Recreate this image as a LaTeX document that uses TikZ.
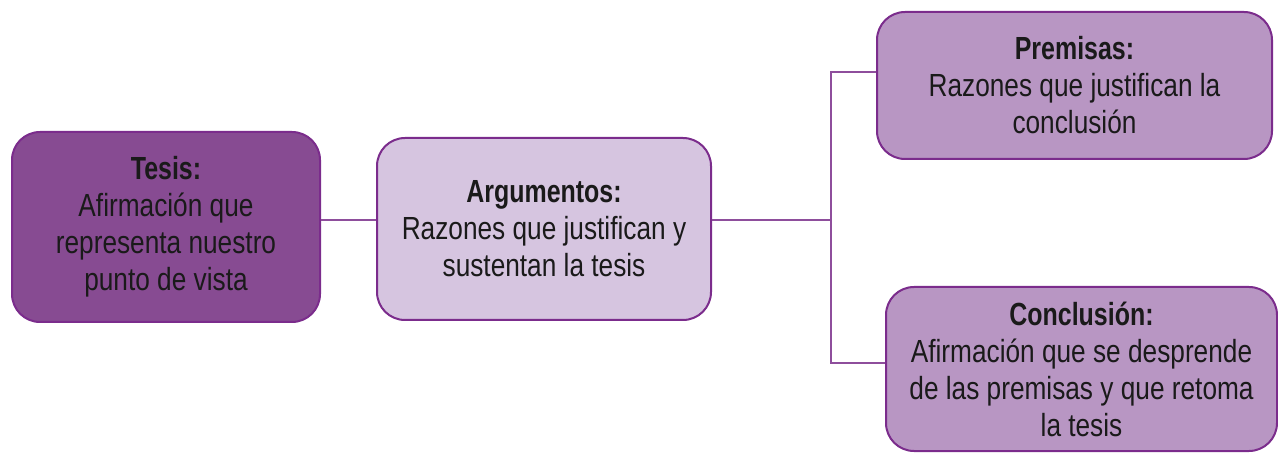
\documentclass[tikz,border=0pt]{standalone}
\usepackage{fontspec}
\setmainfont{Liberation Sans}[FakeStretch=0.82,BoldFeatures={FakeStretch=0.78}]
\definecolor{borde}{HTML}{7B2C8C}
\definecolor{enlace}{HTML}{8E4E9C}
\definecolor{oscuro}{HTML}{874B92}
\definecolor{claro}{HTML}{D6C5E0}
\definecolor{medio}{HTML}{B896C3}
\definecolor{texto}{HTML}{1A1A1A}
\begin{document}
\begin{tikzpicture}[x=1pt,y=1pt,
  box/.style={draw=borde,line width=2pt,rounded corners=28pt,align=center,
    inner sep=0pt,text=texto,font=\fontsize{32}{37}\selectfont},
  link/.style={draw=enlace,line width=2pt}]
  \useasboundingbox (0,0) rectangle (1278,453);
  % Boxes
  \node[box,fill=oscuro,minimum width=308pt,minimum height=190pt] (tesis) at (166,226)
    {\textbf{Tesis:}\\Afirmación que\\representa nuestro\\punto de vista};
  \node[box,fill=claro,minimum width=334pt,minimum height=182pt] (argumentos) at (544,224)
    {\textbf{Argumentos:}\\Razones que justifican y\\sustentan la tesis};
  \node[box,fill=medio,minimum width=395pt,minimum height=147pt] (premisas) at (1074.5,367.5)
    {\textbf{Premisas:}\\Razones que justifican la\\conclusión};
  \node[box,fill=medio,minimum width=391pt,minimum height=164pt] (conclusion) at (1081.5,84)
    {\textbf{Conclusión:}\\Afirmación que se desprende\\de las premisas y que retoma\\la tesis};
  % Links
  \coordinate (split) at (831,233);
  \draw[link] (tesis.east |- split) -- (argumentos.west |- split);
  \draw[link] (argumentos.east |- split) -- (split);
  \draw[link] ([yshift=13.5pt]premisas.west) -| (split) |- ([yshift=6pt]conclusion.west);
\end{tikzpicture}
\end{document}
